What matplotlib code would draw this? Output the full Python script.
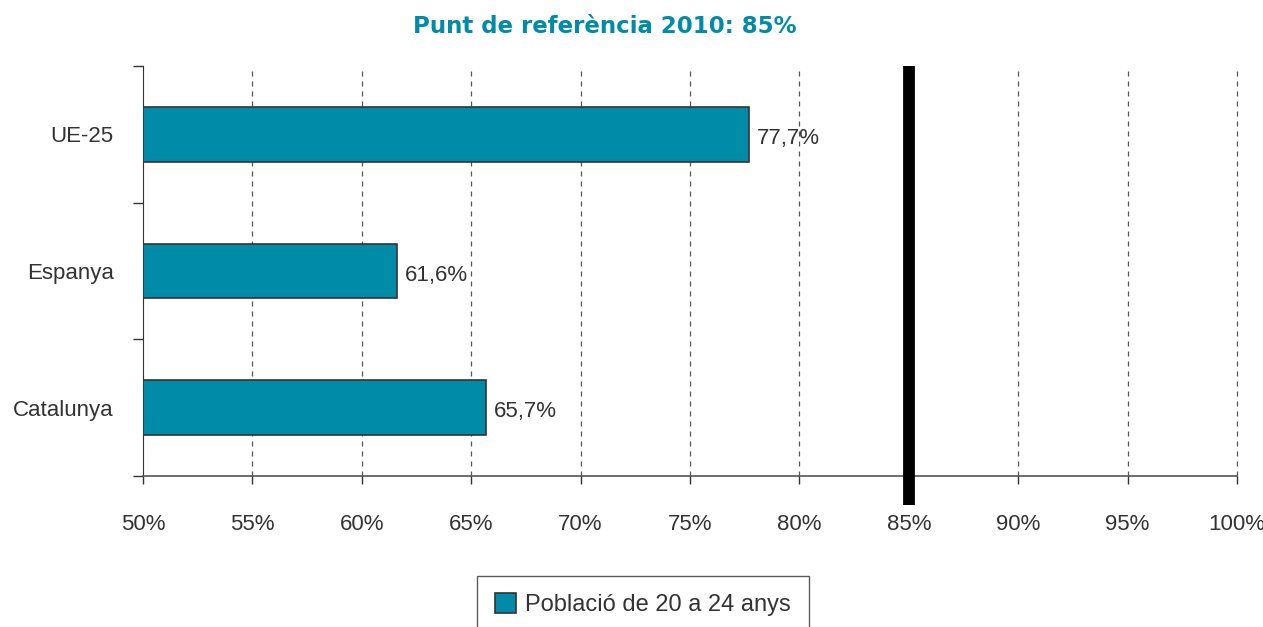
import matplotlib.pyplot as plt
import numpy as np

# =========================
# DATA
# =========================
categories = ["Catalunya", "Espanya", "UE-25"]
values = [65.7, 61.6, 77.7]
value_labels = ["65,7%", "61,6%", "77,7%"]
x_ticks = [50, 55, 60, 65, 70, 75, 80, 85, 90, 95, 100]
reference = 85
series_name = "Població de 20 a 24 anys"
title = "Punt de referència 2010: 85%"

BAR_COLOR = "#008ba8"
TEXT_COLOR = "#333333"

plt.rcParams['font.family'] = ['Liberation Sans', 'DejaVu Sans']

fig = plt.figure(figsize=(12.63, 6.27), dpi=100)
ax = fig.add_axes([0.1132, 0.2408, 0.8662, 0.6539])

y = np.arange(len(categories))
ax.barh(y, [v - 50 for v in values], left=50, height=0.4,
        color=BAR_COLOR, edgecolor="#333333", linewidth=1.2,
        label=series_name, zorder=3)

for yi, v, lab in zip(y, values, value_labels):
    ax.text(v + 0.35, yi - 0.03, lab, va="center", ha="left", fontsize=16,
            color=TEXT_COLOR, zorder=4)

# reference line
ax.axvline(reference, ymin=-0.071, ymax=1, color="black", linewidth=8.5,
           solid_capstyle="butt", clip_on=False, zorder=5)

ax.set_xlim(50, 100)
ax.set_ylim(-0.5, 2.5)
ax.set_xticks(x_ticks)
ax.set_xticklabels([f"{t}%" for t in x_ticks], fontsize=16, color=TEXT_COLOR)
ax.set_yticks(y)
ax.set_yticklabels(categories, fontsize=16, color=TEXT_COLOR)
ax.set_yticks([-0.5, 0.5, 1.5, 2.5], minor=True)
ax.tick_params(axis="y", which="major", length=0, pad=21)
ax.tick_params(axis="y", which="minor", length=7, width=1, color="#333333")
ax.tick_params(axis="x", length=6, width=1, color="#333333", pad=21)

for t in x_ticks[1:]:
    if t != reference:
        ax.axvline(t, color="#555555", linestyle=(0, (4, 4)), linewidth=0.9,
                   clip_on=False, zorder=1)

ax.spines["top"].set_visible(False)
ax.spines["right"].set_visible(False)
ax.spines["left"].set_color("#333333")
ax.spines["bottom"].set_color("#555555")
ax.spines["bottom"].set_linewidth(1.2)

fig.text(0.479, 0.958, title, ha="center", va="center", fontsize=16.5,
         fontweight="bold", color=BAR_COLOR, family="DejaVu Sans")

leg = fig.legend(loc="upper center", bbox_to_anchor=(0.509, 0.082), fontsize=17,
                 frameon=True, fancybox=False, edgecolor="#333333",
                 handlelength=0.9, handleheight=0.9, handletextpad=0.4,
                 borderpad=0.75, borderaxespad=0)
leg.get_frame().set_linewidth(1.0)
for txt in leg.get_texts():
    txt.set_color(TEXT_COLOR)

fig.savefig("out.png", dpi=100)
